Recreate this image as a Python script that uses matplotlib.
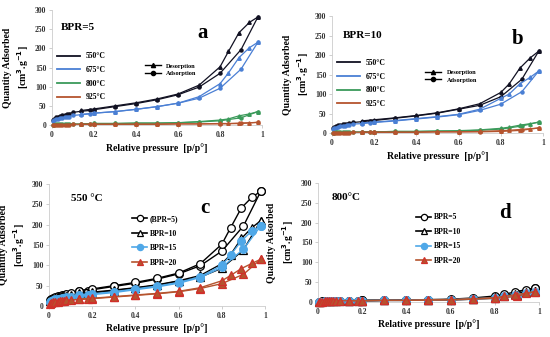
import matplotlib
matplotlib.use('Agg')
import matplotlib.pyplot as plt
from matplotlib.lines import Line2D

plt.rcParams['font.family'] = ['Liberation Serif', 'DejaVu Serif']
plt.rcParams['font.weight'] = 'bold'

# relative pressure points
ads_p = [0.005, 0.01, 0.02, 0.03, 0.04, 0.05, 0.06, 0.07, 0.08, 0.1, 0.14,
         0.18, 0.2, 0.3, 0.4, 0.5, 0.6, 0.7, 0.8, 0.9, 0.98]
des_p = [0.98, 0.94, 0.89, 0.84, 0.8, 0.7, 0.6, 0.5, 0.4, 0.3, 0.2, 0.14]

temps = ['550°C', '675°C', '800°C', '925°C']
temp_colors = ['#111122', '#4a7fd4', '#3a9a5a', '#b5542e']

# panel a : BPR=5
a_ads = [
    [14, 17, 20, 22, 24, 25, 27, 28, 30, 33, 36, 38, 40, 48, 56, 66, 79, 99, 135, 197, 282],
    [11, 13, 15, 17, 18, 19, 20, 21, 22, 25, 27, 29, 31, 35, 41, 48, 57, 70, 96, 146, 216],
    [1, 1, 2, 2, 2, 2, 3, 3, 3, 3, 3, 3, 4, 4, 5, 5, 6, 8, 11, 19, 35],
    [0, 1, 1, 1, 1, 1, 1, 1, 1, 2, 2, 2, 2, 2, 2, 2, 3, 3, 3, 4, 7],
]
a_des = [
    [282, 268, 241, 192, 152, 104, 81, 68, 58, 50, 42, 38],
    [216, 202, 176, 136, 108, 74, 57, 48, 41, 35, 31, 28],
    [35, 29, 24, 16, 13, 9, 6, 5, 5, 4, 4, 3],
    [7, 6, 5, 4, 4, 3, 3, 2, 2, 2, 2, 2],
]

# panel b : BPR=10
b_ads = [
    [13, 16, 18, 20, 21, 22, 23, 24, 25, 27, 29, 31, 32, 38, 44, 51, 61, 71, 93, 138, 210],
    [10, 12, 14, 16, 17, 18, 19, 20, 21, 23, 24, 26, 27, 31, 36, 41, 47, 58, 74, 106, 159],
    [1, 1, 2, 2, 2, 2, 3, 3, 3, 3, 3, 3, 3, 4, 4, 5, 5, 7, 10, 18, 28],
    [0, 1, 1, 1, 1, 1, 1, 1, 1, 2, 2, 2, 2, 2, 2, 3, 3, 3, 4, 7, 13],
]
b_des = [
    [210, 193, 166, 126, 104, 75, 62, 52, 45, 39, 34, 31],
    [159, 143, 126, 100, 89, 61, 48, 42, 37, 32, 28, 26],
    [28, 24, 20, 15, 12, 8, 6, 5, 4, 4, 3, 3],
    [13, 11, 9, 7, 6, 4, 3, 3, 2, 2, 2, 2],
]

# panel c : 550 °C, BPR series
bpr_c = ['(BPR=5)', 'BPR=10', 'BPR=15', 'BPR=20']
c_ads = [
    a_ads[0],
    b_ads[0],
    [9, 12, 14, 16, 17, 18, 19, 20, 21, 23, 25, 27, 28, 33, 40, 47, 56, 70, 95, 140, 197],
    [5, 7, 9, 10, 11, 12, 13, 13, 14, 15, 16, 17, 18, 22, 26, 30, 35, 43, 55, 78, 115],
]
c_des = [
    a_des[0],
    b_des[0],
    [197, 185, 160, 125, 100, 72, 58, 49, 42, 35, 30, 27],
    [115, 105, 92, 75, 62, 45, 36, 31, 27, 23, 19, 17],
]

# panel d : 800 °C, BPR series
bpr_d = ['BPR=5', 'BPR=10', 'BPR=15', 'BPR=20']
d_ads = [
    [1, 1, 2, 2, 2, 2, 3, 3, 3, 3, 3, 3, 4, 4, 5, 5, 6, 8, 13, 21, 35],
    [1, 1, 2, 2, 2, 2, 3, 3, 3, 3, 3, 3, 3, 4, 4, 5, 5, 7, 10, 17, 28],
    [1, 1, 1, 2, 2, 2, 2, 2, 3, 3, 3, 3, 3, 4, 4, 5, 5, 7, 9, 15, 25],
    [1, 1, 1, 2, 2, 2, 2, 2, 3, 3, 3, 3, 3, 4, 4, 5, 5, 7, 9, 14, 26],
]
d_des = [
    [35, 31, 25, 19, 15, 10, 7, 6, 5, 4, 4, 3],
    [28, 24, 20, 15, 12, 8, 6, 5, 4, 4, 3, 3],
    [25, 22, 18, 14, 11, 8, 6, 5, 4, 4, 3, 3],
    [26, 22, 18, 14, 11, 8, 6, 5, 4, 4, 3, 3],
]

bpr_face = ['white', 'white', '#4fa8e8', '#b5542e']
bpr_edge = ['black', 'black', '#4fa8e8', '#d0302a']
bpr_line = ['black', 'black', '#4fa8e8', '#b5542e']
bpr_mark = ['o', '^', 'o', '^']

fig = plt.figure(figsize=(5.5, 3.37), dpi=100)


def setup(ax, ylabel_x):
    ax.set_xlim(0, 1)
    ax.set_ylim(0, 300)
    ax.set_xticks([0, 0.2, 0.4, 0.6, 0.8, 1])
    ax.set_xticklabels(['0', '0.2', '0.4', '0.6', '0.8', '1'])
    ax.set_yticks([0, 50, 100, 150, 200, 250, 300])
    ax.tick_params(labelsize=5.5, length=2, width=0.5, colors='#bbbbbb',
                   labelcolor='#333333', pad=2)
    for s in ['top', 'right']:
        ax.spines[s].set_visible(False)
    for s in ['left', 'bottom']:
        ax.spines[s].set_color('#cccccc')
        ax.spines[s].set_linewidth(0.6)
    ax.set_xlabel('Relative pressure  [p/p°]', fontsize=7, fontweight='bold', labelpad=3)
    ax.set_ylabel('Quantity Adsorbed\n[cm$^\\mathbf{3}$.g$^\\mathbf{-1}$]', fontsize=7,
                  fontweight='bold', linespacing=1.3)
    ax.yaxis.set_label_coords(ylabel_x, 0.5)


def temp_panel(ax, ads, des, title, letter, tpos):
    for i in range(4):
        ax.plot(ads_p, ads[i], color=temp_colors[i], lw=0.9, marker='o', ms=2.2,
                clip_on=False, zorder=3)
        ax.plot(des_p, des[i], color=temp_colors[i], lw=0.9, marker='^', ms=2.5,
                clip_on=False, zorder=3)
    h1 = [Line2D([], [], color=temp_colors[i], lw=1.3) for i in range(4)]
    leg1 = ax.legend(h1, temps, loc='upper left', bbox_to_anchor=(0.01, 0.66),
                     frameon=False, fontsize=5.5, handlelength=3, labelspacing=0.75,
                     borderaxespad=0)
    ax.add_artist(leg1)
    h2 = [Line2D([], [], color='black', lw=1, marker='^', ms=3),
          Line2D([], [], color='black', lw=1, marker='o', ms=3)]
    ax.legend(h2, ['Desorption', 'Adsorption'], loc='upper left',
              bbox_to_anchor=(0.43, 0.56), frameon=False, fontsize=4.5,
              handlelength=2.6, labelspacing=0.3, borderaxespad=0)
    ax.text(tpos[0], tpos[1], title, transform=ax.transAxes, fontsize=8,
            fontweight='bold', va='center')
    ax.text(tpos[2], tpos[3], letter, transform=ax.transAxes, fontsize=15,
            fontweight='bold', va='center')


def bpr_panel(ax, ads, des, labels, title, letter, tpos, leg_x):
    handles = []
    for i in range(4):
        kw = dict(color=bpr_line[i], lw=1.0, marker=bpr_mark[i], ms=5.5,
                  mfc=bpr_face[i], mec=bpr_edge[i], mew=0.9, clip_on=False, zorder=3 + i)
        ax.plot(ads_p, ads[i], **kw)
        ax.plot(des_p, des[i], **kw)
        handles.append(Line2D([], [], color=bpr_line[i], lw=1.2, marker=bpr_mark[i],
                              ms=4.5, mfc=bpr_face[i], mec=bpr_edge[i], mew=0.9))
    ax.legend(handles, labels, loc='upper left', bbox_to_anchor=(leg_x, 0.77),
              frameon=False, fontsize=5.5, handlelength=2.0, labelspacing=0.85,
              borderaxespad=0, handletextpad=0.3)
    ax.text(tpos[0], tpos[1], title, transform=ax.transAxes, fontsize=8,
            fontweight='bold', va='center')
    ax.text(tpos[2], tpos[3], letter, transform=ax.transAxes, fontsize=15,
            fontweight='bold', va='center')


ax_a = fig.add_axes([0.0945, 0.629, 0.382, 0.341])
setup(ax_a, -0.1)
temp_panel(ax_a, a_ads, a_des, 'BPR=5', 'a', (0.04, 0.85, 0.69, 0.8))

ax_b = fig.add_axes([0.6036, 0.6053, 0.3836, 0.347])
setup(ax_b, -0.1)
temp_panel(ax_b, b_ads, b_des, 'BPR=10', 'b', (0.05, 0.83, 0.85, 0.8))

ax_c = fig.add_axes([0.089, 0.092, 0.393, 0.362])
setup(ax_c, -0.1)
bpr_panel(ax_c, c_ads, c_des, bpr_c, '550 °C', 'c', (0.1, 0.88, 0.7, 0.8), 0.37)

ax_d = fig.add_axes([0.578, 0.104, 0.402, 0.353])
setup(ax_d, -0.1)
bpr_panel(ax_d, d_ads, d_des, bpr_d, '800°C', 'd', (0.06, 0.88, 0.82, 0.75), 0.43)

plt.savefig('out.png', dpi=100)
